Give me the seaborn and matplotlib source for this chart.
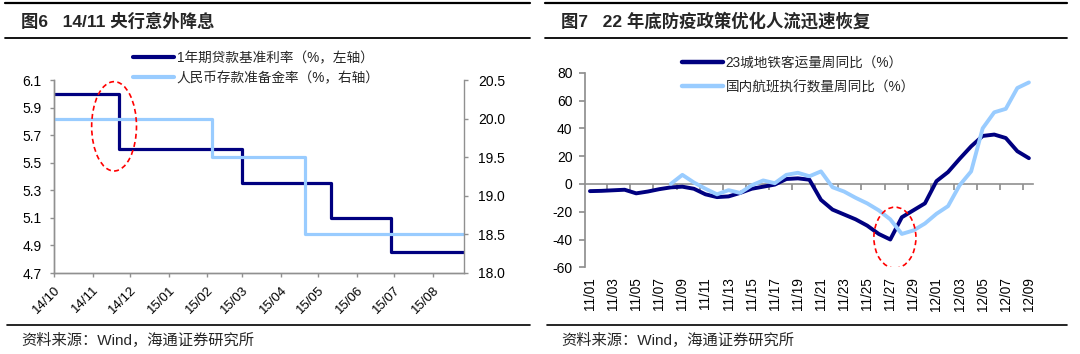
import numpy as np
import pandas as pd
import matplotlib
matplotlib.use('Agg')
import matplotlib.pyplot as plt
import matplotlib.dates as mdates
from matplotlib.patches import Ellipse
from matplotlib.lines import Line2D
import seaborn as sns

# left chart: step series (change dates and levels)
loan_dates = ['2014-10-01', '2014-11-22', '2015-03-01', '2015-05-11', '2015-06-28', '2015-08-26']
loan_rate = [6.0, 5.6, 5.35, 5.1, 4.85, 4.85]
rrr_dates = ['2014-10-01', '2015-02-05', '2015-04-20', '2015-08-26']
rrr_rate = [20.0, 19.5, 18.5, 18.5]
loan_label = '1年期贷款基准利率（%，左轴）'
rrr_label = '人民币存款准备金率（%，右轴）'

# right chart: daily yoy, 11/01 .. 12/09
day_labels = [f'11/{d:02d}' for d in range(1, 31)] + [f'12/{d:02d}' for d in range(1, 10)]
metro_yoy = [-5.2, -5.0, -4.6, -4.2, -6.8, -5.5, -3.8, -2.5, -2.0, -3.5,
             -7.5, -9.5, -9.0, -6.5, -3.5, -2.0, -0.5, 3.5, 4.0, 3.0,
             -11.5, -18.5, -22.0, -25.5, -30.0, -36.0, -40.0, -24.0, -19.0, -14.0,
             2.0, 8.5, 18.0, 27.0, 34.5, 35.5, 33.0, 23.5, 18.5]
flight_yoy = [np.nan] * 7 + [0.0, 6.5, 1.0, -3.5, -7.5, -4.5, -6.5, -1.0, 2.5,
             0.5, 6.5, 8.0, 5.5, 9.0, -2.4, -5.5, -10.0, -14.0, -19.0,
             -25.5, -36.0, -33.5, -28.5, -21.5, -16.0, -1.0, 9.0, 40.0, 51.5,
             54.0, 69.0, 73.0]
metro_label = '23城地铁客运量周同比（%）'
flight_label = '国内航班执行数量周同比（%）'

DARK = '#000080'
LIGHT = '#99CCFF'
GREY = '#909090'

sns.set_theme(style='ticks')
plt.rcParams['font.family'] = ['Liberation Sans', 'Noto Sans CJK SC', 'DejaVu Sans']
plt.rcParams['axes.unicode_minus'] = False

fig = plt.figure(figsize=(10.8, 3.54), dpi=100)
W, H = 1080, 354

def fx(px):
    return px / W

def fy(py):
    return 1 - py / H

# ---------------- left chart ----------------
ax = fig.add_axes([fx(54.3), fy(273), fx(464 - 54.3), (273 - 80) / H])
ax2 = ax.twinx()
loan_df = pd.DataFrame({'date': pd.to_datetime(loan_dates), 'v': loan_rate})
rrr_df = pd.DataFrame({'date': pd.to_datetime(rrr_dates), 'v': rrr_rate})
sns.lineplot(data=loan_df, x='date', y='v', ax=ax, color=DARK, lw=2.3,
             drawstyle='steps-post', estimator=None, legend=False)
sns.lineplot(data=rrr_df, x='date', y='v', ax=ax2, color=LIGHT, lw=2.3,
             drawstyle='steps-post', estimator=None, legend=False)

ax.set_xlim(pd.Timestamp(loan_dates[0]), pd.Timestamp(loan_dates[-1]))
ax.set_ylim(4.7, 6.1)
ax.set_yticks(np.arange(4.7, 6.15, 0.2))
ax.set_yticklabels([f'{v:.1f}' for v in np.arange(4.7, 6.15, 0.2)])
ax2.set_ylim(18.0, 20.5)
ax2.set_yticks(np.arange(18.0, 20.55, 0.5))
ax2.set_yticklabels([f'{v:.1f}' for v in np.arange(18.0, 20.55, 0.5)])
ax.xaxis.set_major_locator(mdates.MonthLocator())
ax.xaxis.set_major_formatter(mdates.DateFormatter('%y/%m'))
for a in (ax, ax2):
    a.set_xlabel('')
    a.set_ylabel('')
    for s in a.spines.values():
        s.set_color(GREY)
        s.set_linewidth(1.0)
    a.spines['top'].set_visible(False)
    a.tick_params(colors=GREY, labelcolor='black', labelsize=10, length=3, width=1)
ax.spines['right'].set_visible(False)
ax.tick_params(axis='y', pad=6)
ax2.tick_params(axis='y', pad=7)
ax.tick_params(axis='x', pad=5)
for t in ax.get_xticklabels():
    t.set_rotation(45)
    t.set_ha('right')
    t.set_va('top')
    t.set_rotation_mode('anchor')
    t.set_fontsize(9.5)

ax2.add_patch(Ellipse((mdates.date2num(pd.Timestamp('2014-11-18')), 5.764), 36, 0.648,
                      transform=ax.transData, fill=False, ec='red',
                      ls=(0, (3, 2)), lw=1.2, zorder=5))

h = [Line2D([], [], color=DARK, lw=3), Line2D([], [], color=LIGHT, lw=3)]
fig.legend(h, [loan_label, rrr_label], loc='upper left', bbox_to_anchor=(fx(133), fy(51)),
           frameon=False, fontsize=9.8, handlelength=3.0, handletextpad=0.2,
           labelspacing=0.45, borderpad=0, borderaxespad=0)

# ---------------- right chart ----------------
bx = fig.add_axes([fx(585), fy(267.3), fx(1032.7 - 585), (267.3 - 72.7) / H])
days = np.arange(len(day_labels))
flow_df = pd.DataFrame({'day': days, 'metro': metro_yoy, 'flight': flight_yoy})
sns.lineplot(data=flow_df, x='day', y='metro', ax=bx, color=DARK, lw=2.8,
             estimator=None, legend=False)
sns.lineplot(data=flow_df, x='day', y='flight', ax=bx, color=LIGHT, lw=2.8,
             estimator=None, legend=False)
ymin, ymax = -60, 80
bx.set_ylim(ymin, ymax)
bx.set_yticks(np.arange(ymin, ymax + 1, 20))
bx.set_xlim(-0.43, 38.33)
bx.set_xticks(days[::2])
bx.set_xticklabels(day_labels[::2], rotation=90, fontsize=9.8)
bx.set_xlabel('')
bx.set_ylabel('')
for s in ['top', 'right', 'bottom']:
    bx.spines[s].set_visible(False)
bx.spines['left'].set_color(GREY)
bx.tick_params(axis='y', colors=GREY, labelcolor='black', labelsize=10, length=4, pad=5)
bx.tick_params(axis='x', length=0, pad=7, labelcolor='black')

zero = bx.secondary_xaxis((0 - ymin) / (ymax - ymin))
zero.set_xticks(np.arange(1.5, 38, 2))
zero.tick_params(axis='x', direction='out', length=4, colors=GREY, labelbottom=False, labeltop=False)
for s in zero.spines.values():
    s.set_color(GREY)
    s.set_linewidth(1.2)

bx.add_patch(Ellipse((26.4, -38.7), 3.64, 43.9, fill=False, ec='red',
                     ls=(0, (3, 2)), lw=1.2, zorder=5))

h = [Line2D([], [], color=DARK, lw=3.2), Line2D([], [], color=LIGHT, lw=3.2)]
fig.legend(h, [metro_label, flight_label], loc='upper left', bbox_to_anchor=(fx(682), fy(56)),
           frameon=False, fontsize=9.8, handlelength=3.0, handletextpad=0.2,
           labelspacing=0.75, borderpad=0, borderaxespad=0)

# ---------------- headers and footers ----------------
for x0, x1, title in [(5, 530, '图6   14/11 央行意外降息'), (545, 1067, '图7   22 年底防疫政策优化人流迅速恢复')]:
    fig.add_artist(Line2D([fx(x0), fx(x1)], [fy(3.3), fy(3.3)], color='black', lw=1.6))
    fig.add_artist(Line2D([fx(x0), fx(x1)], [fy(37.7), fy(37.7)], color='black', lw=1.3))
    fig.add_artist(Line2D([fx(x0 + 2), fx(x1)], [fy(325), fy(325)], color='black', lw=1.2))
    fig.text(fx(x0 + 16), fy(21), title, fontsize=12.5, fontweight='bold', va='center', ha='left')
    fig.text(fx(x0 + 16), fy(340), '资料来源：Wind，海通证券研究所', fontsize=11, va='center', ha='left')

fig.savefig('out.png', dpi=100)
